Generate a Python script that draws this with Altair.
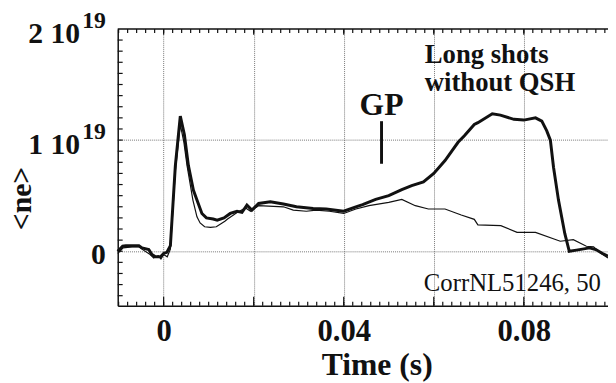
import altair as alt
import pandas as pd
import numpy as np

# ---- data (time in s, <ne> in units of 1e19 m^-3) ----
t_thick = [-0.0102, -0.0091, -0.0084, -0.0070, -0.0055, -0.0048, -0.0033, -0.0026, -0.0018,
           -0.0007, 0.0, 0.0007, 0.0015, 0.0026, 0.0037, 0.0046, 0.0055, 0.0066, 0.0074,
           0.0085, 0.0095, 0.0110, 0.0119, 0.0134, 0.0148, 0.0163, 0.0174, 0.0185, 0.0196,
           0.0211, 0.0237, 0.0266, 0.0295, 0.0332, 0.0361, 0.0400, 0.0427, 0.0442, 0.0471,
           0.0500, 0.0529, 0.0551, 0.0577, 0.0600, 0.0625, 0.0654, 0.0668, 0.0690, 0.0698,
           0.0730, 0.0748, 0.0778, 0.0800, 0.0826, 0.0840, 0.0851, 0.0859, 0.0866, 0.0877,
           0.0891, 0.0901, 0.0917, 0.0946, 0.0960, 0.0975, 0.0987]
v_thick = [0.00, 0.045, 0.05, 0.05, 0.05, 0.03, 0.015, -0.03, -0.05,
           -0.05, -0.02, -0.01, 0.05, 0.77, 1.216, 1.05, 0.77, 0.55, 0.46,
           0.34, 0.30, 0.29, 0.28, 0.30, 0.34, 0.36, 0.35, 0.415, 0.37,
           0.43, 0.445, 0.425, 0.40, 0.385, 0.38, 0.36, 0.40, 0.42, 0.466,
           0.50, 0.555, 0.59, 0.623, 0.70, 0.816, 0.98, 1.04, 1.14, 1.157,
           1.237, 1.225, 1.187, 1.18, 1.20, 1.17, 1.083, 1.00, 0.756, 0.46,
           0.16, 0.00, 0.01, 0.03, 0.015, -0.02, -0.045]

t_thin = [-0.0102, -0.0090, -0.0070, -0.0055, -0.0045, -0.0030, -0.0022, -0.0012, -0.0006,
          0.0, 0.0008, 0.0015, 0.0026, 0.0037, 0.0045, 0.0052, 0.0065, 0.0074, 0.0081,
          0.0091, 0.0104, 0.0117, 0.0136, 0.0142, 0.0164, 0.0182, 0.0193, 0.0211, 0.0266,
          0.0288, 0.0317, 0.0339, 0.0368, 0.0400, 0.0427, 0.0456, 0.0500, 0.0529, 0.0559,
          0.0588, 0.0625, 0.0661, 0.0690, 0.0698, 0.0749, 0.0785, 0.0826, 0.0881, 0.0910,
          0.0939, 0.0955, 0.0970, 0.0987]
v_thin = [-0.02, 0.03, 0.04, 0.04, 0.01, -0.03, -0.06, -0.04, -0.07,
          -0.03, -0.05, 0.02, 0.72, 1.14, 0.98, 0.77, 0.46, 0.31, 0.255,
          0.22, 0.215, 0.22, 0.27, 0.29, 0.35, 0.39, 0.36, 0.41, 0.40,
          0.37, 0.36, 0.37, 0.36, 0.34, 0.38, 0.41, 0.44, 0.466, 0.41,
          0.38, 0.38, 0.326, 0.287, 0.237, 0.23, 0.17, 0.17, 0.09, 0.104,
          0.045, 0.04, -0.015, -0.06]

# GP marker
gp_t = 0.0484
gp_v = [0.787, 1.17]

# axis ticks / labels
x_grid_values = [0.0, 0.02, 0.04, 0.06, 0.08]
x_minor_ticks = [round(v, 3) for v in np.arange(-0.010, 0.0987, 0.002)]
y_grid_values = [0.0, 1.0]
y_minor_ticks = [round(v, 1) for v in np.arange(-0.4, 2.0, 0.1)]
y_label_values = [1.0, 2.0]
y_label_main = ["1 10", "2 10"]
y_label_sup = ["19", "19"]

X_DOMAIN = [-0.0102, 0.0987]
Y_DOMAIN = [-0.49, 2.0]
W, H = 496, 280
FONT = "Liberation Serif"

xs = alt.Scale(domain=X_DOMAIN, nice=False, zero=False)
ys = alt.Scale(domain=Y_DOMAIN, nice=False, zero=False)

thick_df = pd.DataFrame({"t": t_thick, "v": v_thick})
thin_df = pd.DataFrame({"t": t_thin, "v": v_thin})

label_expr = ("(format(datum.value,'.2~f') == '0.02' || format(datum.value,'.2~f') == '0.06')"
              " ? '' : format(datum.value,'.2~f')")

X_AXIS = alt.Axis(
    values=x_grid_values, labelExpr=label_expr, grid=True, gridDash=[1, 1],
    gridColor="#777", gridWidth=1, ticks=False, tickSize=0, domain=True,
    domainColor="#111", domainWidth=1.5, labelFont=FONT, labelFontWeight="bold",
    labelFontSize=31, labelColor="#111", labelPadding=11, labelFlush=False,
    title="Time (s)", titleFont=FONT, titleFontWeight="bold", titleFontSize=32,
    titleColor="#111", titleX=262, titleY=70, titleBaseline="alphabetic",
    titleAlign="center")
Y_AXIS = alt.Axis(
    values=y_grid_values, labels=False, grid=True, gridDash=[1, 1],
    gridColor="#777", gridWidth=1, ticks=False, tickSize=0, domain=True,
    domainColor="#111", domainWidth=1.5,
    title="<ne>", titleFont=FONT, titleFontWeight="bold", titleFontSize=30,
    titleColor="#111", titleAngle=270, titleX=-88, titleY=171,
    titleBaseline="alphabetic", titleAlign="center")


def X(field="t"):
    return alt.X(f"{field}:Q", scale=xs, axis=X_AXIS)


def Y(field="v"):
    return alt.Y(f"{field}:Q", scale=ys, axis=Y_AXIS)


thin_layer = alt.Chart(thin_df).mark_line(stroke="#111", strokeWidth=1.2).encode(x=X(), y=Y())
thick_layer = alt.Chart(thick_df).mark_line(stroke="#111", strokeWidth=3).encode(x=X(), y=Y())

# frame top line
top_line = alt.Chart(pd.DataFrame({"a": [0]})).mark_rule(color="#111", strokeWidth=1.5).encode(
    x=alt.value(0), x2=alt.value(W), y=alt.value(0))

# inward ticks
xt_df = pd.DataFrame({"t": x_minor_ticks})
xmaj_df = pd.DataFrame({"t": x_grid_values})
yt_df = pd.DataFrame({"v": y_minor_ticks})
tick_style = dict(color="#111", strokeWidth=1.2)
bot_minor = alt.Chart(xt_df).mark_rule(**tick_style).encode(
    x=X(), y=alt.value(H), y2=alt.value(H - 4))
bot_major = alt.Chart(xmaj_df).mark_rule(**tick_style).encode(
    x=X(), y=alt.value(H), y2=alt.value(H - 9))
top_minor = alt.Chart(xt_df).mark_rule(**tick_style).encode(
    x=X(), y=alt.value(0), y2=alt.value(4))
top_major = alt.Chart(xmaj_df).mark_rule(**tick_style).encode(
    x=X(), y=alt.value(0), y2=alt.value(6))
left_minor = alt.Chart(yt_df).mark_rule(**tick_style).encode(
    y=Y(), x=alt.value(0), x2=alt.value(5))

# y tick labels with superscripts
yl_df = pd.DataFrame({"v": y_label_values, "main": y_label_main, "sup": y_label_sup})
ylab_main = alt.Chart(yl_df).mark_text(
    font=FONT, fontWeight="bold", fontSize=30, align="right", baseline="alphabetic",
    dy=14, color="#111").encode(y=Y(), x=alt.value(-38), text="main:N")
ylab_sup = alt.Chart(yl_df).mark_text(
    font=FONT, fontWeight="bold", fontSize=24, align="right", baseline="alphabetic",
    dy=-1, color="#111").encode(y=Y(), x=alt.value(-12), text="sup:N")
ylab_zero = alt.Chart(pd.DataFrame({"v": [0.0], "main": ["0"]})).mark_text(
    font=FONT, fontWeight="bold", fontSize=30, align="right", baseline="alphabetic",
    dy=13, color="#111").encode(y=Y(), x=alt.value(-12), text="main:N")

# GP marker and annotations
gp_rule = alt.Chart(pd.DataFrame({"t": [gp_t], "v": [gp_v[0]], "v2": [gp_v[1]]})).mark_rule(
    color="#111", strokeWidth=3).encode(x=X(), y=Y(), y2="v2:Q")

gp_text = alt.Chart(pd.DataFrame({"t": [gp_t], "v": [1.23], "txt": ["GP"]})).mark_text(
    font=FONT, fontWeight="bold", fontSize=32, align="center", baseline="alphabetic",
    color="#111").encode(x=X(), y=Y(), text="txt:N")

long_df = pd.DataFrame({"t": [0.0580, 0.0580], "v": [1.69, 1.445],
                        "txt": ["Long shots", "without QSH"]})
long_text = alt.Chart(long_df).mark_text(
    font=FONT, fontWeight="bold", fontSize=27, align="left", baseline="alphabetic",
    color="#111").encode(x=X(), y=Y(), text="txt:N")

corr_df = pd.DataFrame({"t": [0.0578], "v": [-0.356], "txt": ["CorrNL51246, 50"]})
corr_text = alt.Chart(corr_df).mark_text(
    font=FONT, fontSize=25, align="left", baseline="alphabetic", color="#111").encode(
    x=X(), y=Y(), text="txt:N")

chart = alt.layer(
    thin_layer, thick_layer, top_line, bot_minor, bot_major, top_minor, top_major,
    left_minor, ylab_main, ylab_sup, ylab_zero, gp_rule, gp_text, long_text, corr_text,
).properties(
    width=W, height=H,
    autosize=alt.AutoSizeParams(type="none"),
    padding={"left": 111, "top": 19, "right": 0, "bottom": 75},
    background="white",
).configure_view(strokeWidth=0)

chart.save("out.html", embed_options={"renderer": "svg", "actions": False})
